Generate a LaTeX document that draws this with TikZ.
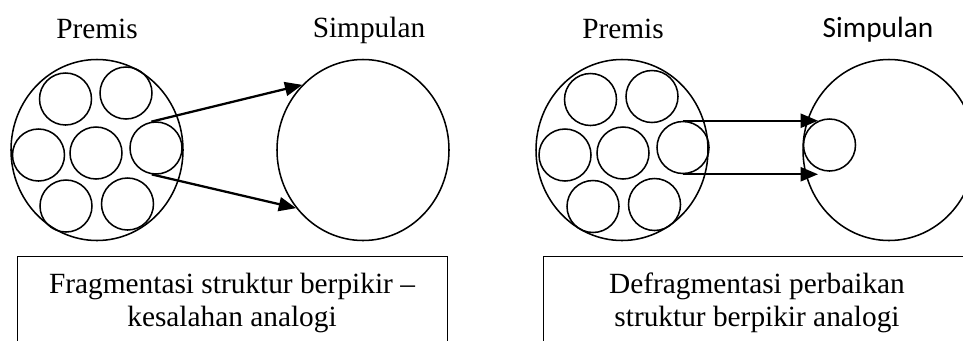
\documentclass[tikz,border=0pt]{standalone}
\usepackage{fontspec}
\setmainfont{Liberation Serif}
\newfontfamily\calibrifont{Carlito}
\usetikzlibrary{shapes.geometric,arrows.meta}
\tikzset{
  big/.style={draw, ellipse, line width=1.15pt, minimum width=129pt, minimum height=135.75pt, inner sep=0pt},
  sm/.style={draw, circle, line width=1.15pt, minimum size=39pt, inner sep=0pt},
  arr/.style={-{Triangle[length=13pt,width=10.5pt]}, line width=1.7pt},
  boxnode/.style={draw, line width=0.85pt, inner sep=0pt, anchor=north west, minimum height=90pt},
  lbl/.style={font=\fontsize{22}{24.75}\selectfont, inner sep=0pt, anchor=base},
  boxtext/.style={font=\fontsize{22}{24.75}\selectfont, inner sep=0pt, align=center, anchor=center}
}
\begin{document}
\begin{tikzpicture}[x=0.75pt, y=-0.75pt]
\clip (0,0) rectangle (963,340);
% ---------- left diagram ----------
\node[big] (LP) at (97,150) {};
\node[sm] (l1) at (65.5,99) {};
\node[sm] (l2) at (126,93) {};
\node[sm] (l3) at (38.5,155) {};
\node[sm] (l4) at (96,153) {};
\node[sm] (l5) at (156,148) {};
\node[sm] (l6) at (66,206) {};
\node[sm] (l7) at (127.5,204) {};
\node[big] (LS) at (363,150) {};
\draw[arr] (l5.100) -- (LS.133);
\draw[arr] (l5.-99) -- (LS.221);
\node[lbl] (lpt) at (97,38) {Premis};
\node[lbl] (lst) at (369,37) {Simpulan};
\node[boxnode, minimum width=322.5pt] (lbox) at (17,256) {};
\node[boxtext] (lboxt) at (232,303) {Fragmentasi struktur berpikir –\\kesalahan analogi};
% ---------- right diagram ----------
\node[big] (RP) at (622,150) {};
\node[sm] (r1) at (590.5,99.5) {};
\node[sm] (r2) at (652,96.5) {};
\node[sm] (r3) at (565,155) {};
\node[sm] (r4) at (623,153) {};
\node[sm] (r5) at (683,147.5) {};
\node[sm] (r6) at (593,206.5) {};
\node[sm] (r7) at (654.5,204.5) {};
\node[big] (RS) at (889,150) {};
\node[sm] (rs) at (829.5,145) {};
\coordinate (tipx) at (818,0);
\draw[arr] (r5.north) -- (r5.north -| tipx);
\draw[arr] (r5.south) -- (r5.south -| tipx);
\node[lbl] (rpt) at (623,38) {Premis};
\node[lbl, font=\fontsize{22}{24.75}\calibrifont] (rst) at (878,37) {Simpulan};
\node[boxnode, minimum width=375pt] (rbox) at (543,256) {};
\node[boxtext] (rboxt) at (757,303) {Defragmentasi perbaikan\\struktur berpikir analogi};
\end{tikzpicture}
\end{document}
